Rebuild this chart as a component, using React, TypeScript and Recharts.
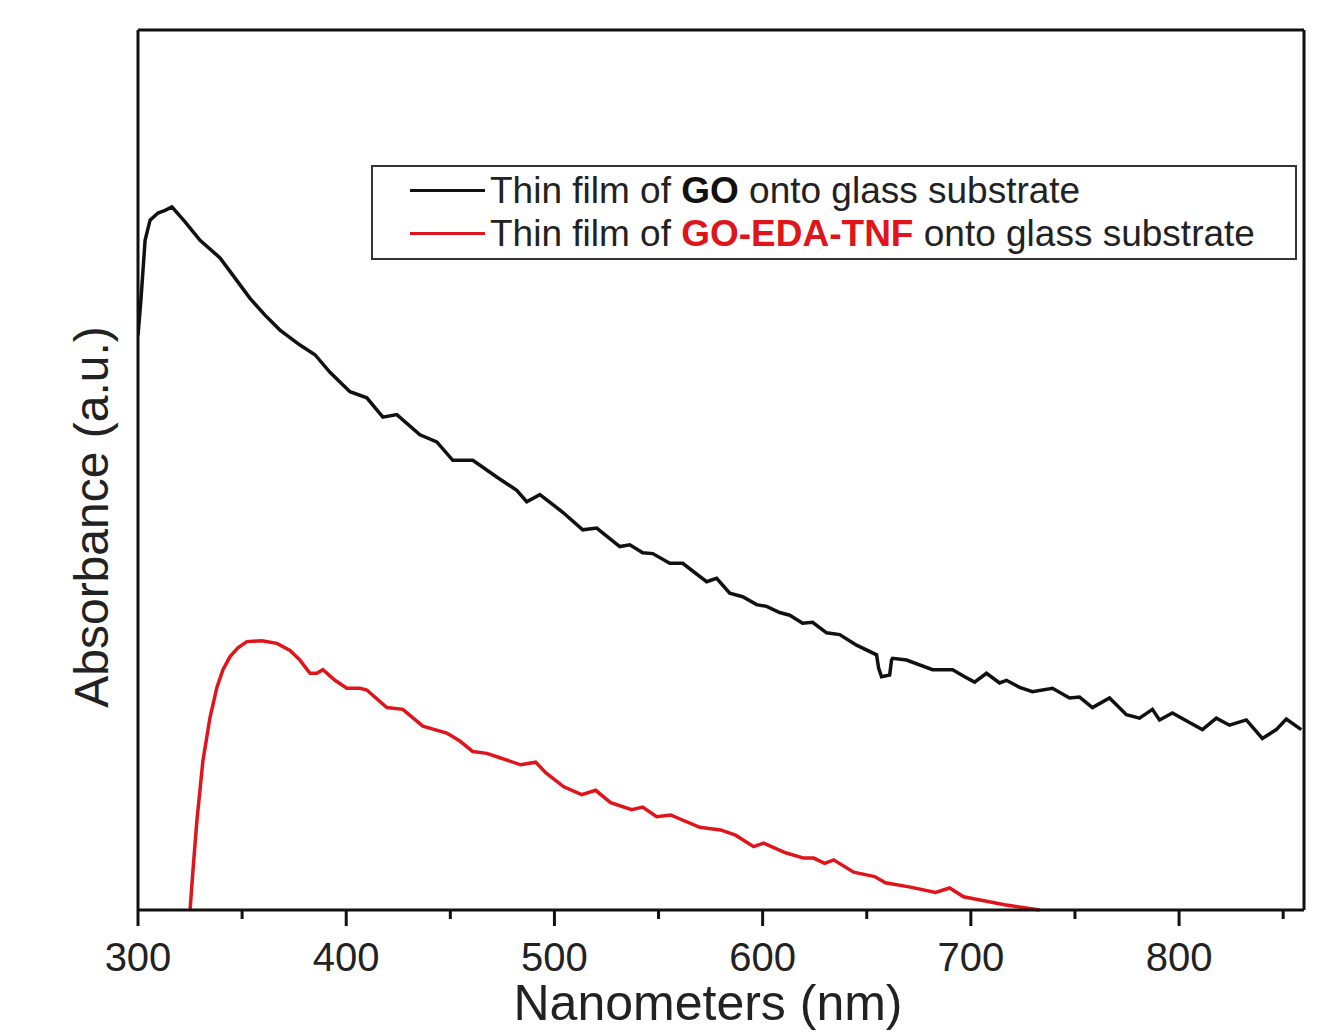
import React from 'react';
import { LineChart, Line, XAxis, YAxis, Legend } from 'recharts';

// GO film, wavelength (nm) and absorbance (a.u., scaled 0..1 to the plot height)
const goNm = [
  300, 301.4, 303.4, 305.8, 309.6, 313, 316.3, 322.6, 329.8, 339.4, 346.6, 353.8, 361, 368.2, 377.8, 385,
  392.2, 401.8, 409.9, 417.6, 424.3, 435.4, 443.5, 451.2, 460.8, 472.3, 481.9, 486.7, 493, 504, 513.6,
  520.3, 531.4, 536.2, 542.4, 547.2, 555.4, 561.6, 573.1, 577.9, 584.2, 590.4, 597.1, 601.9, 608.2, 613,
  619.2, 624, 630.7, 637, 645.1, 654.7, 655.7, 657.1, 661, 661.9, 662.4, 669.1, 681.6, 691.2, 697.9,
  701.8, 707.5, 713.8, 717.1, 723.4, 729.6, 739.2, 747.4, 752.2, 758.4, 766.6, 774.7, 781, 787.2, 790.6,
  796.8, 805, 811.2, 817.9, 824.2, 832.3, 840, 846.7, 851.5, 858.7,
];
const goAbs = [
  0.653, 0.693, 0.761, 0.784, 0.792, 0.795, 0.799, 0.782, 0.761, 0.741, 0.718, 0.695, 0.676, 0.659, 0.642,
  0.631, 0.611, 0.589, 0.582, 0.56, 0.563, 0.54, 0.532, 0.511, 0.511, 0.492, 0.477, 0.464, 0.472, 0.452,
  0.432, 0.434, 0.413, 0.415, 0.406, 0.405, 0.394, 0.394, 0.373, 0.377, 0.36, 0.356, 0.347, 0.345, 0.338,
  0.335, 0.326, 0.327, 0.315, 0.313, 0.301, 0.29, 0.275, 0.265, 0.267, 0.284, 0.286, 0.284, 0.273, 0.273,
  0.264, 0.259, 0.269, 0.258, 0.261, 0.253, 0.248, 0.252, 0.241, 0.242, 0.23, 0.241, 0.222, 0.218, 0.228,
  0.216, 0.224, 0.213, 0.205, 0.218, 0.21, 0.216, 0.195, 0.205, 0.217, 0.205,
];

// GO-EDA-TNF film
const tnfNm = [
  325, 326.4, 328.3, 331.2, 334.6, 337.9, 340.8, 344.2, 348, 352.3, 359.5, 366.7, 373, 377.8, 382.6, 385.9,
  388.8, 394.6, 400.3, 406.6, 409.9, 419.5, 427.2, 436.8, 448.3, 454.6, 460.8, 467.5, 473.8, 483.8, 491,
  495.8, 504.5, 513.1, 519.8, 527, 537.1, 542.4, 549.1, 555.8, 569.8, 579.8, 587, 595.7, 600.5, 611,
  619.7, 624.5, 629.8, 634.1, 643.7, 653.8, 659, 671, 683, 689.8, 696.5, 705.1, 716.2, 733,
];
const tnfAbs = [
  0, 0.045, 0.102, 0.17, 0.219, 0.253, 0.273, 0.288, 0.298, 0.305, 0.306, 0.303, 0.295, 0.284, 0.269, 0.269,
  0.273, 0.261, 0.252, 0.252, 0.25, 0.23, 0.228, 0.209, 0.201, 0.192, 0.18, 0.178, 0.173, 0.165, 0.168,
  0.156, 0.14, 0.131, 0.136, 0.122, 0.114, 0.117, 0.106, 0.108, 0.094, 0.091, 0.085, 0.072, 0.076, 0.065,
  0.059, 0.059, 0.053, 0.057, 0.043, 0.038, 0.031, 0.026, 0.02, 0.025, 0.015, 0.011, 0.006, 0,
];

const xTicks = [300, 350, 400, 450, 500, 550, 600, 650, 700, 750, 800, 850];

const goData = goNm.map((nm, i) => ({ nm, a: goAbs[i] }));
const tnfData = tnfNm.map((nm, i) => ({ nm, a: tnfAbs[i] }));

const FONT = '"Liberation Sans", Arial, Helvetica, sans-serif';
const RED = '#e0141b';
const AXIS = '#111';

function NmTick(props: any) {
  const { x, y, payload } = props;
  const major = payload.value % 100 === 0;
  return (
    <g>
      <line x1={x} x2={x} y1={y} y2={y + (major ? 16 : 9)} stroke={AXIS} strokeWidth={3} />
      {major && (
        <text x={x} y={y + 33} dy="0.71em" textAnchor="middle" fontSize={40} fill="#222" fontFamily={FONT}>
          {payload.value}
        </text>
      )}
    </g>
  );
}

function LegendBox() {
  const rows = [
    { color: '#111', name: 'GO' },
    { color: RED, name: 'GO-EDA-TNF' },
  ];
  return (
    <div
      style={{
        boxSizing: 'border-box',
        width: 926,
        height: 95,
        border: '2px solid #333',
        background: '#fff',
        paddingTop: 2,
        fontFamily: FONT,
        fontSize: 37,
        color: '#222',
      }}
    >
      {rows.map((r) => (
        <div key={r.name} style={{ display: 'flex', alignItems: 'center', height: 43, whiteSpace: 'nowrap' }}>
          <div style={{ width: 75, height: 3, background: r.color, marginLeft: 37, marginRight: 5 }} />
          <span>
            Thin film of <b style={{ color: r.color }}>{r.name}</b> onto glass substrate
          </span>
        </div>
      ))}
    </div>
  );
}

export default function App() {
  return (
    <div style={{ position: 'absolute', left: 0, top: 0, width: 1321, height: 1035, background: '#fff' }}>
      <LineChart width={1321} height={1035} margin={{ top: 29, right: 16, bottom: 45, left: 137 }}>
        <XAxis
          dataKey="nm"
          type="number"
          domain={[300, 860]}
          allowDataOverflow
          ticks={xTicks}
          tick={<NmTick />}
          tickLine={false}
          tickSize={0}
          tickMargin={0}
          height={80}
          axisLine={{ stroke: AXIS, strokeWidth: 3 }}
          interval={0}
          label={{
            content: (p: any) => {
              const vb = p.viewBox;
              return (
                <text
                  x={vb.x + vb.width / 2 - 13}
                  y={vb.y + 110}
                  textAnchor="middle"
                  fontSize={50}
                  fill="#222"
                  fontFamily={FONT}
                >
                  Nanometers (nm)
                </text>
              );
            },
          }}
        />
        <XAxis
          xAxisId="top"
          orientation="top"
          dataKey="nm"
          type="number"
          domain={[300, 860]}
          allowDataOverflow
          tick={false}
          tickLine={false}
          height={1}
          axisLine={{ stroke: AXIS, strokeWidth: 3 }}
        />
        <YAxis
          type="number"
          domain={[0, 1]}
          tick={false}
          tickLine={false}
          width={1}
          axisLine={{ stroke: AXIS, strokeWidth: 3 }}
          label={{
            content: (p: any) => {
              const vb = p.viewBox;
              const cx = vb.x + vb.width - 30;
              const cy = vb.y + vb.height / 2 + 47;
              return (
                <text
                  x={cx}
                  y={cy}
                  transform={`rotate(-90 ${cx} ${cy})`}
                  textAnchor="middle"
                  fontSize={48}
                  fill="#222"
                  fontFamily={FONT}
                >
                  Absorbance (a.u.)
                </text>
              );
            },
          }}
        />
        <YAxis
          yAxisId="right"
          orientation="right"
          type="number"
          domain={[0, 1]}
          tick={false}
          tickLine={false}
          width={1}
          axisLine={{ stroke: AXIS, strokeWidth: 3 }}
        />
        <Legend
          layout="vertical"
          align="center"
          verticalAlign="middle"
          wrapperStyle={{ top: 165, left: 371, width: 926 }}
          content={() => <LegendBox />}
        />
        <Line
          data={goData}
          dataKey="a"
          name="GO"
          type="linear"
          stroke="#111"
          strokeWidth={3.5}
          dot={false}
          isAnimationActive={false}
        />
        <Line
          data={tnfData}
          dataKey="a"
          name="GO-EDA-TNF"
          type="linear"
          stroke={RED}
          strokeWidth={3.5}
          dot={false}
          isAnimationActive={false}
        />
      </LineChart>
    </div>
  );
}
